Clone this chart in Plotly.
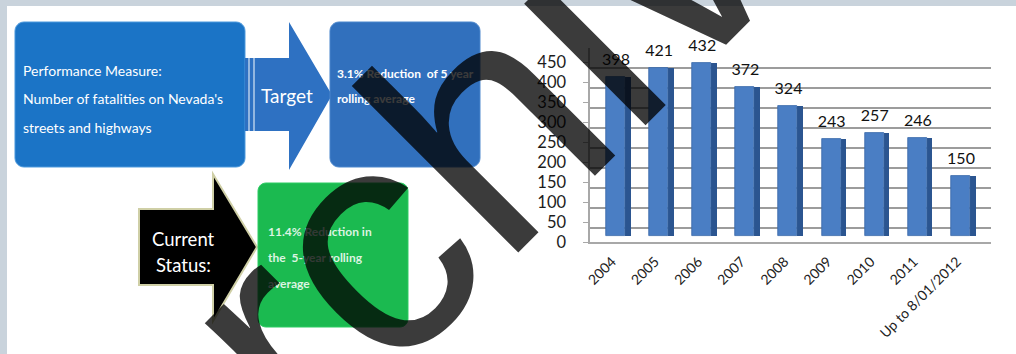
import math
import plotly.graph_objects as go

W, H = 1016, 354

# ---------------- data ----------------
years = ["2004", "2005", "2006", "2007", "2008", "2009", "2010", "2011", "Up to 8/01/2012"]
fatalities = [398, 421, 432, 372, 324, 243, 257, 246, 150]
y_ticks = [0, 50, 100, 150, 200, 250, 300, 350, 400, 450]

measure_lines = ["Performance Measure:", "Number of fatalities on Nevada's", "streets and highways"]
target_label = "Target"
target_lines = ["3.1% Reduction  of 5 year", "rolling average"]
status_lines = ["Current", "Status:"]
status_text_lines = ["11.4% Reduction in", "the  5-year rolling", "average"]
watermark = "Archive"


def px(x):
    return x / W


def py(y):
    return 1 - y / H


def poly(points):
    return "M " + " L ".join(f"{px(x):.5f},{py(y):.5f}" for x, y in points) + " Z"


def rrect(x0, y0, x1, y1, r):
    pts = []
    corners = [(x1 - r, y0 + r, -90, 0), (x1 - r, y1 - r, 0, 90), (x0 + r, y1 - r, 90, 180), (x0 + r, y0 + r, 180, 270)]
    for cx, cy, a0, a1 in corners:
        for k in range(7):
            a = math.radians(a0 + (a1 - a0) * k / 6)
            pts.append((cx + r * math.cos(a), cy + r * math.sin(a)))
    return poly(pts)


shapes = []
shapes.append(dict(type="rect", xref="paper", yref="paper", x0=px(7), x1=1, y0=0, y1=py(6),
                   fillcolor="white", line=dict(width=0), layer="below"))
# box 1
shapes.append(dict(type="path", xref="paper", yref="paper", path=rrect(15, 22, 245, 167, 9),
                   fillcolor="#1b74c6", line=dict(color="#4a98dc", width=1), layer="below"))
# target arrow
shapes.append(dict(type="path", xref="paper", yref="paper",
                   path=poly([(245, 58), (289, 58), (289, 22), (332, 95), (289, 170), (289, 131), (245, 131)]),
                   fillcolor="#2e71c2", line=dict(width=0), layer="below"))
for xs in (249, 254):
    shapes.append(dict(type="line", xref="paper", yref="paper", x0=px(xs), x1=px(xs), y0=py(58), y1=py(131),
                       line=dict(color="#d8e6f4", width=1.2), layer="below"))
# box 2
shapes.append(dict(type="path", xref="paper", yref="paper", path=rrect(330, 22, 480, 167, 9),
                   fillcolor="#3170bd", line=dict(color="#4a86cc", width=1), layer="below"))
# black arrow
shapes.append(dict(type="path", xref="paper", yref="paper",
                   path=poly([(139, 209), (213, 209), (213, 174), (257, 247), (213, 321), (213, 285), (139, 285)]),
                   fillcolor="#000000", line=dict(color="#cfcfa6", width=2), layer="below"))
# green box
shapes.append(dict(type="path", xref="paper", yref="paper", path=rrect(258, 183, 408, 327, 8),
                   fillcolor="#1bba50", line=dict(color="#2ccc62", width=1), layer="below"))


def label(text, x, y, size, color="white", anchor="left", bold=False, family="Lato"):
    return dict(text=f"<b>{text}</b>" if bold else text, x=px(x), y=py(y), xref="paper", yref="paper",
                xanchor=anchor, yanchor="middle", showarrow=False,
                font=dict(family=family, size=size, color=color))


annotations = []
for t, yy in zip(measure_lines, [70, 99, 127]):
    annotations.append(label(t, 21, yy, 14))
annotations.append(label(target_label, 287, 95, 19, anchor="center"))
for t, yy in zip(target_lines, [74, 99]):
    annotations.append(label(t, 335, yy, 12, bold=True))
for t, yy in zip(status_lines, [239, 265]):
    annotations.append(label(t, 183, yy, 18.5, anchor="center"))
for t, yy in zip(status_text_lines, [232, 257, 283]):
    annotations.append(label(t, 266, yy, 12, color="#dcf4e2", bold=True))

# ---------------- bar chart ----------------
step = (961 - 616) / 8
x_lo, x_hi = -0.6, 8.7
dom_x = [px(616 + x_lo * step), px(616 + x_hi * step)]
dom_y = [py(242), py(48)]

fig = go.Figure()
fig.add_trace(go.Scatter(x=years, y=fatalities, yaxis="y", mode="markers",
                         marker=dict(opacity=0), showlegend=False, hoverinfo="skip"))
# side (depth) faces
fig.add_trace(go.Bar(x=years, y=fatalities, yaxis="y3", offset=0.21, width=0.13,
                     marker=dict(color="#2b5590", line=dict(width=0)), showlegend=False, hoverinfo="skip"))
# front faces
fig.add_trace(go.Bar(x=years, y=fatalities, yaxis="y3", offset=-0.23, width=0.44,
                     marker=dict(color="#4a7ec4", line=dict(color="#3a68a8", width=0.8)),
                     showlegend=False))
# value labels
fig.add_trace(go.Scatter(x=years, y=fatalities, yaxis="y2", mode="text",
                         text=[str(v) for v in fatalities], textposition="top center",
                         textfont=dict(family="Lato", size=16, color="#111111"),
                         cliponaxis=False, showlegend=False, hoverinfo="skip"))

fig.update_layout(
    width=W, height=H, margin=dict(l=0, r=0, t=0, b=0, autoexpand=False),
    paper_bgcolor="#c9d3dc", plot_bgcolor="rgba(0,0,0,0)",
    barmode="overlay", bargap=0,
    shapes=shapes,
    xaxis=dict(domain=dom_x, range=[x_lo, x_hi], type="category", tickangle=-45, automargin=False,
               showline=True, linecolor="#a8a8a8", linewidth=2, ticks="",
               ticklabelstandoff=4, ticklabelshift=-4,
               tickfont=dict(family="Lato", size=14, color="#222222"), showgrid=False, anchor="y"),
    yaxis=dict(domain=dom_y, range=[0, 485], tickvals=y_ticks, showgrid=False, zeroline=False, automargin=False,
               showline=True, linecolor="#a8a8a8", linewidth=1.5, ticks="outside", ticklen=5,
               tickcolor="#a8a8a8", ticklabelstandoff=14,
               tickfont=dict(family="Lato", size=16.5, color="#1c1c1c")),
    yaxis2=dict(domain=dom_y, range=[-35, 450], overlaying="y", tickvals=y_ticks, showticklabels=False,
                automargin=False, showgrid=True, gridcolor="#9c9c9c", gridwidth=1.6, zeroline=False, anchor="x"),
    yaxis3=dict(domain=dom_y, range=[-15, 470], overlaying="y", showticklabels=False, showgrid=False,
                automargin=False, zeroline=False, anchor="x"),
    annotations=annotations + [
        dict(text=watermark, x=px(461), y=py(150), xref="paper", yref="paper", showarrow=False,
             xanchor="center", yanchor="middle", textangle=-45,
             font=dict(family="Liberation Sans", size=325, color="rgba(0,0,0,0.77)")),
    ],
)

fig.write_html("out.html")
